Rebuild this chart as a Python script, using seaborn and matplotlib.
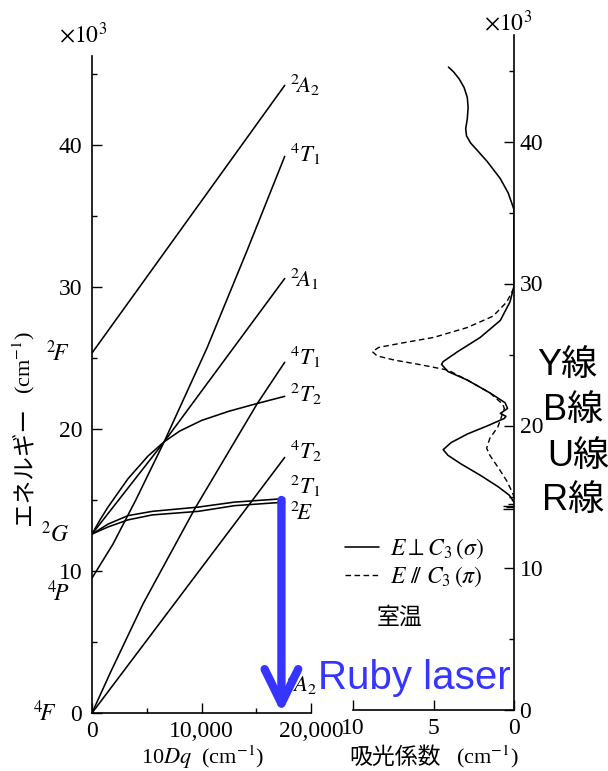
import matplotlib
matplotlib.use("Agg")
import matplotlib.pyplot as plt
from matplotlib.lines import Line2D
from matplotlib.ticker import FixedLocator, FixedFormatter
import pandas as pd
import seaborn as sns

# ---------------------------------------------------------------------------
# Energy levels of Cr3+ (d3) in an octahedral field
# x: 10Dq (cm^-1), y: energy above the 4A2 ground state (10^3 cm^-1)
dq_2A2 = [0, 17600]
e_2A2 = [25.35, 44.2]
dq_4T1P = [0, 1920, 4000, 6590, 10500, 14180, 17600]
e_4T1P = [9.5, 11.9, 15.0, 19.1, 25.7, 32.6, 39.2]
dq_2A1 = [0, 6590, 17600]
e_2A1 = [12.6, 19.1, 30.6]
dq_4T1F = [0, 1650, 4670, 9400, 15100, 17600]
e_4T1F = [0, 2.8, 7.7, 14.4, 21.8, 24.7]
dq_2T2 = [0, 730, 1460, 3290, 5120, 6590, 8000, 10000, 12500, 15100, 17600]
e_2T2 = [12.6, 13.6, 14.5, 16.5, 18.1, 19.1, 19.85, 20.6, 21.25, 21.8, 22.3]
dq_4T2 = [0, 17600]
e_4T2 = [0, 18.0]
dq_2T1 = [0, 1460, 3290, 5500, 9700, 13000, 17600]
e_2T1 = [12.6, 13.3, 13.9, 14.2, 14.5, 14.85, 15.1]
dq_2E = [0, 1460, 3290, 5500, 9700, 13000, 17600]
e_2E = [12.6, 13.1, 13.6, 13.95, 14.2, 14.6, 14.85]

# free-ion terms at 10Dq = 0 and the crystal-field terms at the right end
free_ion_terms = [r"$^2\!F$", r"$^2G$", r"$^4\!P$", r"$^4\!F$"]
free_ion_E = [25.35, 12.6, 9.5, 0.0]
end_terms = [r"$^2\!A_2$", r"$^4T_1$", r"$^2\!A_1$", r"$^4T_1$", r"$^2T_2$",
             r"$^4T_2$", r"$^2T_1$", r"$^2\!E$", r"$^4\!A_2$"]
end_E = [44.2, 39.2, 30.6, 24.7, 22.3, 18.0, 15.1, 14.85, 0.0]

# 10Dq of ruby and the emitting transition 2E -> 4A2
ruby_10dq = 17300
laser_upper_E = 15.0

# ---------------------------------------------------------------------------
# Room-temperature absorption of ruby (x: cm^-1, y: 10^3 cm^-1)
sigma_abs = [4.07, 3.75, 3.4, 3.1, 2.9, 2.85, 2.9, 3.0, 2.95, 2.7, 2.3, 1.67, 0.86,
             0.37, 0.12, 0.0, 0.0,
             0.25, 0.85, 2.1, 3.5, 4.4, 4.5, 4.1, 2.9, 1.5, 0.55, 0.4, 0.85, 0.5,
             0.6, 1.6, 2.9, 3.9, 4.4, 4.1, 3.3, 2.1, 1.0, 0.3, 0.0]
sigma_E = [45.24, 44.9, 44.4, 43.8, 43.1, 42.4, 41.6, 40.9, 40.4, 39.9, 39.4, 38.6, 37.4,
           36.4, 35.6, 35.2, 29.8,
           28.7, 27.4, 26.2, 25.2, 24.5, 24.3, 23.8, 23.2, 22.3, 21.6, 21.2, 20.85, 20.65,
           20.5, 20.0, 19.4, 18.8, 18.3, 17.9, 17.3, 16.5, 15.7, 15.1, 14.6]
pi_abs = [0.0, 0.45, 1.3, 2.9, 5.0, 7.0, 8.4, 8.8, 8.5, 7.4, 5.9, 4.1, 2.9, 1.5, 0.7,
          0.6, 1.0, 1.5, 1.7, 1.5, 0.9, 0.45, 0.15, 0.0]
pi_E = [29.7, 28.7, 27.7, 26.9, 26.2, 25.8, 25.5, 25.2, 24.9, 24.6, 24.3, 23.9, 23.2,
        22.3, 21.5, 21.2, 19.9, 19.1, 18.4, 17.9, 16.9, 16.1, 15.4, 15.0]
# sharp R lines
r_line_E = [14.15, 14.25, 14.35, 14.45]
r_line_abs = [0.7, 0.5, 0.7, 0.4]

line_names = ["Y線", "B線", "U線", "R線"]

# tick values
dq_ticks = [0, 10000, 20000]
dq_tick_labels = ["0", "10,000", "20,000"]
dq_minor = [5000, 15000]
e_ticks = [0, 10, 20, 30, 40]
e_minor = [5, 15, 25, 35, 45]
abs_ticks = [10, 5, 0]

# ---------------------------------------------------------------------------
sns.set_theme(style="ticks", rc={
    "axes.edgecolor": "black", "text.color": "black",
    "xtick.color": "black", "ytick.color": "black",
    "axes.labelcolor": "black", "axes.facecolor": "white",
})
plt.rcParams["font.family"] = ["Liberation Serif", "Noto Sans CJK JP"]
plt.rcParams["mathtext.fontset"] = "stix"
CJK = ["Noto Sans CJK JP"]
SANS = ["Liberation Sans", "Noto Sans CJK JP"]

W, H = 608, 771
fig = plt.figure(figsize=(W / 100, H / 100), dpi=100)


def fx(px):
    return px / W


def fy(py):
    return 1 - py / H


px_per_k = 14.2
axL = fig.add_axes([fx(92), fy(713), fx(311) - fx(92), 47.5 * px_per_k / H])
axR = fig.add_axes([fx(353), fy(709.5), fx(514) - fx(353), 47.5 * px_per_k / H])

levels = pd.concat([
    pd.DataFrame({"dq": d, "E": e, "level": n}) for n, d, e in [
        ("2A2", dq_2A2, e_2A2), ("4T1P", dq_4T1P, e_4T1P), ("2A1", dq_2A1, e_2A1),
        ("4T1F", dq_4T1F, e_4T1F), ("2T2", dq_2T2, e_2T2), ("4T2", dq_4T2, e_4T2),
        ("2T1", dq_2T1, e_2T1), ("2E", dq_2E, e_2E)]
], ignore_index=True)

sns.lineplot(data=levels, x="dq", y="E", units="level", estimator=None, sort=False,
             color="black", lw=1.15, ax=axL, legend=False)

axL.set_xlim(0, 20000)
axL.set_ylim(0, 47.5)
for s in ("top", "right"):
    axL.spines[s].set_visible(False)
axL.spines["left"].set_bounds(0, 46.3)
axL.spines["bottom"].set_bounds(0, 20000)
for s in ("left", "bottom"):
    axL.spines[s].set_linewidth(1.2)
axL.xaxis.set_major_locator(FixedLocator(dq_ticks))
axL.xaxis.set_major_formatter(FixedFormatter(dq_tick_labels))
axL.xaxis.set_minor_locator(FixedLocator(dq_minor))
axL.yaxis.set_major_locator(FixedLocator(e_ticks))
axL.yaxis.set_minor_locator(FixedLocator(e_minor))
axL.tick_params(which="both", direction="in", width=1.0, labelsize=17)
axL.tick_params(which="major", length=7)
axL.tick_params(which="minor", length=3.5)
axL.tick_params(axis="y", pad=7)
axL.tick_params(axis="x", pad=6)
axL.set_xlabel("")
axL.set_ylabel("")

# term labels
for t, e in zip(free_ion_terms, free_ion_E):
    dy = {9.5: -11}.get(e, 0)
    dx = -25 if e == 0.0 else -16
    axL.annotate(t, xy=(0, e), xytext=(dx, dy), textcoords="offset points",
                 ha="right", va="center", fontsize=17, annotation_clip=False)
end_dy = [0, 2, 0, 4, 2, 5, 9, -8, 21]
end_dx = [4, 4, 4, 4, 4, 4, 4, 4, 2]
for t, e, dx, dy in zip(end_terms, end_E, end_dx, end_dy):
    axL.annotate(t, xy=(dq_2A2[-1], e), xytext=(dx, dy), textcoords="offset points",
                 ha="left", va="center", fontsize=16.5, annotation_clip=False)

# ---------------------------------------------------------------------------
spec_sigma = pd.DataFrame({"abs": sigma_abs, "E": sigma_E})
spec_pi = pd.DataFrame({"abs": pi_abs, "E": pi_E})
sns.lineplot(data=spec_sigma, x="abs", y="E", sort=False, estimator=None,
             color="black", lw=1.15, ax=axR)
sns.lineplot(data=spec_pi, x="abs", y="E", sort=False, estimator=None,
             color="black", lw=1.0, linestyle=(0, (4, 2.5)), ax=axR)
axR.hlines(r_line_E, 0, r_line_abs, color="black", lw=1.0)

axR.set_xlim(10, 0)
axR.set_ylim(0, 47.5)
for s in ("top", "left"):
    axR.spines[s].set_visible(False)
axR.spines["right"].set_bounds(0, 47.5)
axR.spines["bottom"].set_bounds(0, 10)
for s in ("right", "bottom"):
    axR.spines[s].set_linewidth(1.2)
axR.yaxis.tick_right()
axR.xaxis.set_major_locator(FixedLocator(abs_ticks))
axR.yaxis.set_major_locator(FixedLocator(e_ticks))
axR.yaxis.set_minor_locator(FixedLocator(e_minor))
axR.tick_params(which="both", direction="in", width=1.0, labelsize=17)
axR.tick_params(which="major", length=7)
axR.tick_params(which="minor", length=3.5)
axR.tick_params(axis="y", pad=4)
axR.tick_params(axis="x", pad=6)
axR.set_xlabel("")
axR.set_ylabel("")

# legend for the two polarisations
handles = [Line2D([], [], color="black", lw=1.15),
           Line2D([], [], color="black", lw=1.0, linestyle=(0, (4, 2.5)))]
labels = [r"$E\perp C_3\,(\sigma)$", r"$E\ /\!/\ C_3\,(\pi)$"]
fig.legend(handles, labels, loc="upper left", bbox_to_anchor=(fx(345), fy(537)),
           frameon=False, fontsize=17, handlelength=1.45, handletextpad=0.45,
           labelspacing=0.15, borderpad=0, borderaxespad=0)
fig.text(fx(400), fy(617), "室温", ha="center", va="center", fontsize=16.5,
         family=CJK)

# axis titles and multipliers
fig.text(fx(83), fy(35), r"$\times10^{3}$", ha="center", va="center", fontsize=17)
fig.text(fx(508), fy(23), r"$\times10^{3}$", ha="center", va="center", fontsize=17)
fig.text(fx(24), fy(466), "エネルギー", rotation=90,
         ha="center", va="center", fontsize=17, family=CJK)
fig.text(fx(24), fy(363), "(cm$^{-1}$)", rotation=90,
         ha="center", va="center", fontsize=16)
fig.text(fx(203), fy(757), "10$Dq$  (cm$^{-1}$)", ha="center", va="center", fontsize=16)
fig.text(fx(395), fy(757), "吸光係数", ha="center", va="center", fontsize=16.5,
         family=CJK)
fig.text(fx(487), fy(757), "(cm$^{-1}$)", ha="center", va="center", fontsize=16)

# ruby laser transition
blue = "#3535ff"
axL.annotate("", xy=(ruby_10dq, 0), xytext=(ruby_10dq, laser_upper_E),
             arrowprops=dict(arrowstyle="->,head_length=0.45,head_width=0.22",
                             lw=6, color=blue, shrinkA=0, shrinkB=0,
                             mutation_scale=55),
             annotation_clip=False)
fig.text(fx(318), fy(689), "Ruby laser", ha="left", va="baseline", fontsize=29,
         color=blue, family=SANS)

name_pos = [(537, 365), (543, 410), (547, 456), (542, 500)]
for name, (px, py) in zip(line_names, name_pos):
    fig.text(fx(px), fy(py), name, ha="left", va="center", fontsize=26, family=SANS)

fig.savefig("out.png", dpi=100)
